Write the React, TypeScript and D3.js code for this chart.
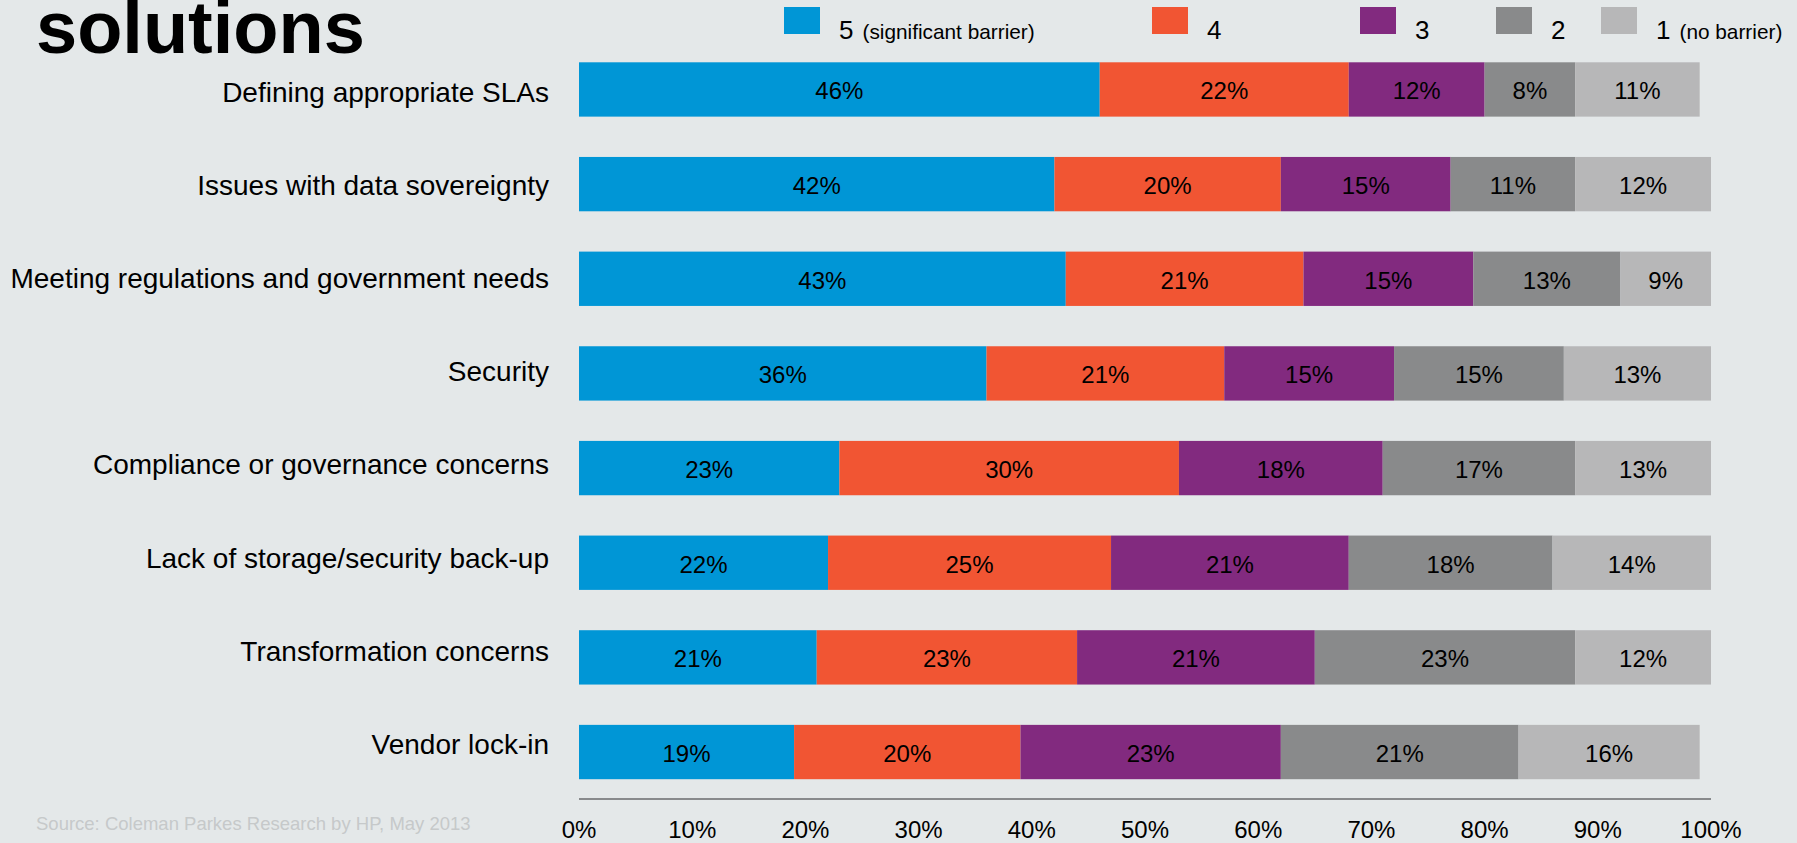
import React from 'react';
import * as d3 from 'd3';

const categories = [
  'Defining appropriate SLAs',
  'Issues with data sovereignty',
  'Meeting regulations and government needs',
  'Security',
  'Compliance or governance concerns',
  'Lack of storage/security back-up',
  'Transformation concerns',
  'Vendor lock-in',
];
const level5 = [46, 42, 43, 36, 23, 22, 21, 19];
const level4 = [22, 20, 21, 21, 30, 25, 23, 20];
const level3 = [12, 15, 15, 15, 18, 21, 21, 23];
const level2 = [8, 11, 13, 15, 17, 18, 23, 21];
const level1 = [11, 12, 9, 13, 13, 14, 12, 16];
const seriesKeys = ['5', '4', '3', '2', '1'];
const seriesNotes = ['(significant barrier)', '', '', '', '(no barrier)'];
const xTicks = [0, 10, 20, 30, 40, 50, 60, 70, 80, 90, 100];
const titleText = 'solutions';
const sourceText = 'Source: Coleman Parkes Research by HP, May 2013';

const colors = ['#0096d6', '#f15533', '#822a7f', '#898a8b', '#b7b7b8'];
const legendX = [784, 1152, 1360, 1496, 1601];
const FONT = "'Liberation Sans', Arial, Helvetica, sans-serif";

export default function App() {
  const W = 1797;
  const H = 843;
  const rows = categories.map((c, i) => ({
    cat: c,
    '5': level5[i],
    '4': level4[i],
    '3': level3[i],
    '2': level2[i],
    '1': level1[i],
  }));
  const stacked = d3.stack<any>().keys(seriesKeys)(rows);
  const x = d3.scaleLinear().domain([0, 100]).range([579, 1711]).clamp(true);
  const y = d3
    .scaleBand<string>()
    .domain(categories)
    .range([62.3, 779.2])
    .paddingInner(0.426)
    .paddingOuter(0);
  const yLabel = d3.scalePoint<string>().domain(categories).range([91.5, 744]);

  return (
    <svg
      width={W}
      height={H}
      style={{ position: 'absolute', left: 0, top: 0, background: '#e4e8e9' }}
      fontFamily={FONT}
    >
      <rect x={0} y={0} width={W} height={H} fill="#e4e8e9" />
      <text x={36} y={53} fontSize={74} fontWeight="bold" fill="#000">
        {titleText}
      </text>

      {/* legend */}
      {seriesKeys.map((k, i) => (
        <g key={k}>
          <rect x={legendX[i]} y={7} width={36} height={27} fill={colors[i]} />
          <text x={legendX[i] + 55} y={39} fill="#000">
            <tspan fontSize={26}>{k}</tspan>
            {seriesNotes[i] && (
              <tspan fontSize={20.8} dx={9}>
                {seriesNotes[i]}
              </tspan>
            )}
          </text>
        </g>
      ))}

      {/* category labels */}
      {categories.map((c) => (
        <text
          key={c}
          x={549}
          y={(yLabel(c) as number) + 10}
          fontSize={28}
          textAnchor="end"
          fill="#000"
        >
          {c}
        </text>
      ))}

      {/* bars */}
      {stacked.map((s, si) => (
        <g key={s.key}>
          {s.map((d, i) => {
            const x0 = x(d[0]);
            const x1 = x(d[1]);
            const yy = y(categories[i]) as number;
            const bw = y.bandwidth();
            const val = (rows[i] as any)[s.key];
            return (
              <g key={i}>
                <rect x={x0} y={yy} width={Math.max(0, x1 - x0)} height={bw} fill={colors[si]} />
                <text
                  x={(x0 + x1) / 2}
                  y={yy + bw / 2 + 10}
                  fontSize={24}
                  textAnchor="middle"
                  fill="#000"
                >
                  {val}%
                </text>
              </g>
            );
          })}
        </g>
      ))}

      {/* axis */}
      <line x1={x(0)} x2={x(100)} y1={799} y2={799} stroke="#888a8c" strokeWidth={2} />
      {xTicks.map((t) => (
        <text key={t} x={x(t)} y={838} fontSize={24} textAnchor="middle" fill="#000">
          {t}%
        </text>
      ))}

      <text x={36} y={830} fontSize={18.5} fill="#c6c9ca">
        {sourceText}
      </text>
    </svg>
  );
}
